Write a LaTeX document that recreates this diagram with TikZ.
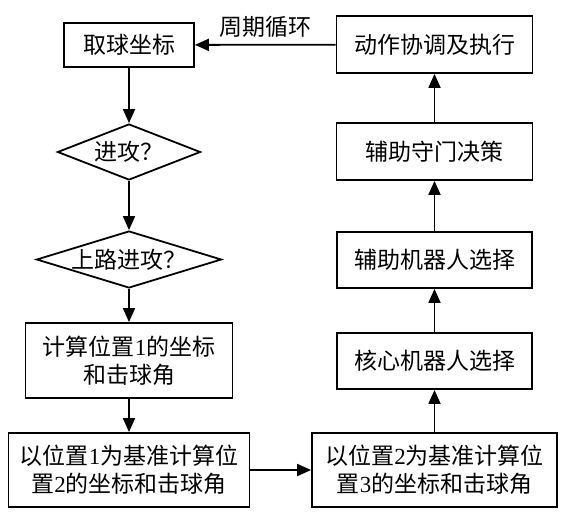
\documentclass[tikz,border=0pt]{standalone}
\usepackage{fontspec}
\setmainfont{Liberation Serif}
\newfontfamily\cjk{Noto Sans CJK SC}
\usetikzlibrary{shapes.geometric,arrows.meta}
\newcommand\dig[1]{{\rmfamily #1}}

\begin{document}
\begin{tikzpicture}[x=1pt,y=-1pt,
  every node/.style={font=\cjk\fontsize{23}{28}\selectfont},
  box/.style={draw,line width=1.8pt,inner sep=0pt,align=center},
  decide/.style={draw,diamond,line width=1.8pt,inner sep=0pt},
  flow/.style={line width=1.8pt,-{Triangle[length=14pt,width=12pt]}}]
\useasboundingbox (0,0) rectangle (569,516);

\node[box,minimum width=130,minimum height=44] (get) at (129,45) {取球坐标};
\node[decide,aspect=2.55,minimum width=143,minimum height=56] (att) at (129,152) {进攻？};
\node[decide,aspect=3.25,inner xsep=-3pt,minimum width=185,minimum height=57] (up) at (129,259.5) {上路进攻？};
\node[box,minimum width=207,minimum height=75] (calc1) at (129,360.5) {计算位置\dig{1}的坐标\\和击球角};
\node[box,minimum width=241,minimum height=74] (base1) at (129,470) {以位置\dig{1}为基准计算位\\置\dig{2}的坐标和击球角};

\node[box,minimum width=245,minimum height=74] (base2) at (434.5,470) {以位置\dig{2}为基准计算位\\置\dig{3}的坐标和击球角};
\node[box,minimum width=195,minimum height=56] (core) at (434.5,361) {核心机器人选择};
\node[box,minimum width=195,minimum height=56] (aux) at (434.5,260) {辅助机器人选择};
\node[box,minimum width=196,minimum height=57] (goal) at (434.5,151.5) {辅助守门决策};
\node[box,minimum width=196,minimum height=57] (act) at (434.5,44.5) {动作协调及执行};

\draw[flow] (get) -- (att);
\draw[flow] (att) -- (up);
\draw[flow] (up) -- (calc1);
\draw[flow] (calc1) -- (base1);
\draw[flow] (base1) -- (base2);
\draw[flow] (base2) -- (core);
\draw[flow] (core) -- (aux);
\draw[flow] (aux) -- (goal);
\draw[flow] (goal) -- (act);
% back to the start
\draw[flow] (act) -- node[above=3pt] {周期循环} (get);
\end{tikzpicture}
\end{document}
